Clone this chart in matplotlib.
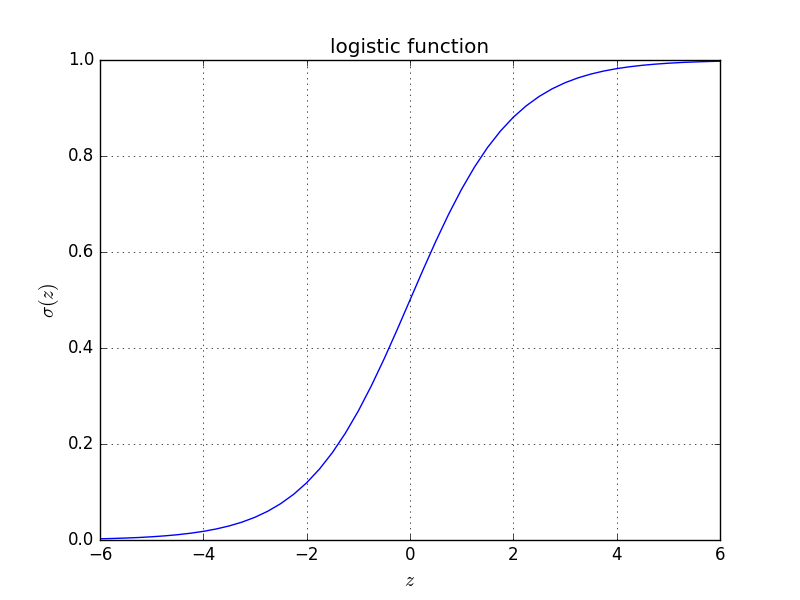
import numpy as np
import matplotlib
matplotlib.use('Agg')
import matplotlib.pyplot as plt

# values
z_vals = [-6.0, -5.75, -5.5, -5.25, -5.0, -4.75, -4.5, -4.25, -4.0, -3.75,
          -3.5, -3.25, -3.0, -2.75, -2.5, -2.25, -2.0, -1.75, -1.5, -1.25,
          -1.0, -0.75, -0.5, -0.25, 0.0, 0.25, 0.5, 0.75, 1.0, 1.25,
          1.5, 1.75, 2.0, 2.25, 2.5, 2.75, 3.0, 3.25, 3.5, 3.75,
          4.0, 4.25, 4.5, 4.75, 5.0, 5.25, 5.5, 5.75, 6.0]
sigma_vals = [0.0025, 0.0032, 0.0041, 0.0052, 0.0067, 0.0086, 0.0110, 0.0141, 0.0180, 0.0230,
              0.0293, 0.0373, 0.0474, 0.0601, 0.0759, 0.0954, 0.1192, 0.1481, 0.1824, 0.2227,
              0.2689, 0.3208, 0.3775, 0.4378, 0.5000, 0.5622, 0.6225, 0.6792, 0.7311, 0.7773,
              0.8176, 0.8519, 0.8808, 0.9046, 0.9241, 0.9399, 0.9526, 0.9627, 0.9707, 0.9770,
              0.9820, 0.9859, 0.9890, 0.9914, 0.9933, 0.9948, 0.9959, 0.9968, 0.9975]

plt.style.use('classic')

fig = plt.figure(figsize=(8, 6), dpi=100, facecolor='white')
ax = fig.add_subplot(111)
ax.plot(z_vals, sigma_vals, color='b', linewidth=1.0)
ax.set_xlim(-6, 6)
ax.set_ylim(0, 1)
ax.grid(True)
ax.set_title('logistic function')
ax.set_xlabel('$z$', fontsize=14)
ax.set_ylabel(r'$\sigma(z)$', fontsize=14)

fig.savefig('out.png', dpi=100, facecolor='white')
